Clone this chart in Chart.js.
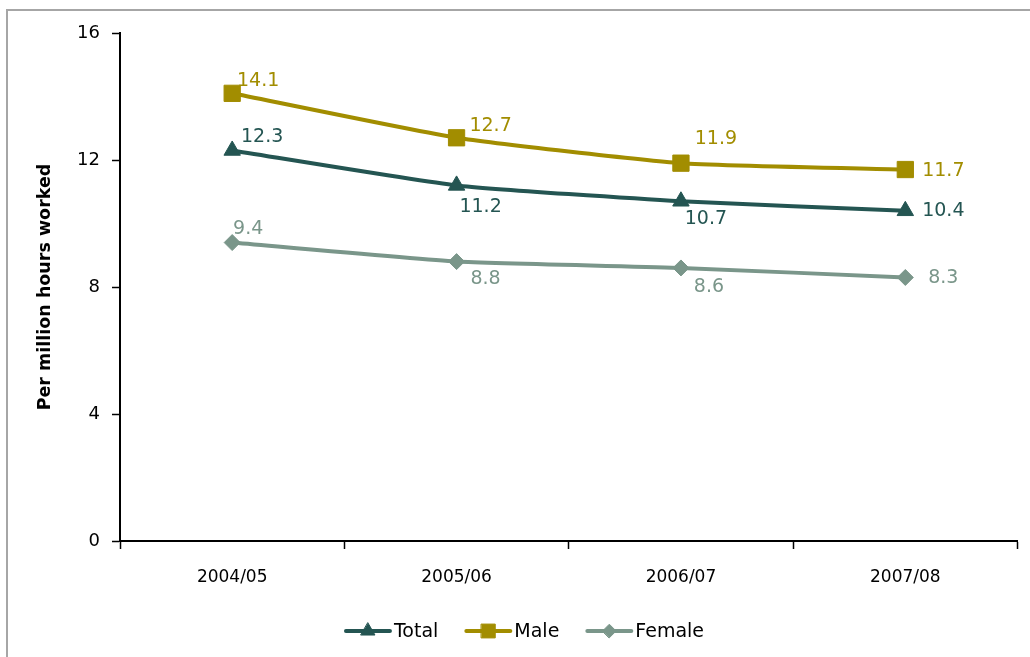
<!DOCTYPE html>
<html lang="en">
<head>
    <meta charset="UTF-8">
    <title>Injury rate per million hours worked</title>
    <script src="https://cdn.jsdelivr.net/npm/chart.js"></script>
    <style>
        html, body { margin: 0; padding: 0; background: #fff; overflow: hidden; }
        #wrap { position: relative; width: 1030px; height: 657px; }
    </style>
</head>
<body>
    <div id="wrap">
        <canvas id="lineChart" width="1030" height="657"></canvas>
    </div>
    <script>
        // Data
        const years = ['2004/05', '2005/06', '2006/07', '2007/08'];
        const totalRate = [12.3, 11.2, 10.7, 10.4];
        const maleRate = [14.1, 12.7, 11.9, 11.7];
        const femaleRate = [9.4, 8.8, 8.6, 8.3];
        const yTicks = [0, 4, 8, 12, 16];

        const FONT = "'DejaVu Sans', sans-serif";
        const colTotal = '#245552';
        const colMale = '#a28d00';
        const colFemale = '#7a968a';

        // label offsets (dx, dy) from each point, per series
        const labelPos = {
            Total:  [[30, -13], [24, 22], [25, 18], [38, 0]],
            Male:   [[26, -12], [34, -12], [35, -24], [38, 2]],
            Female: [[16, -13], [29, 17], [28, 19], [38, 1]]
        };

        // draws the value labels next to the markers
        const valueLabels = {
            id: 'valueLabels',
            afterDatasetsDraw(chart) {
                const ctx = chart.ctx;
                ctx.save();
                ctx.font = '19px ' + FONT;
                ctx.textAlign = 'center';
                ctx.textBaseline = 'middle';
                chart.data.datasets.forEach((ds, i) => {
                    const meta = chart.getDatasetMeta(i);
                    const offs = labelPos[ds.label];
                    meta.data.forEach((pt, j) => {
                        ctx.fillStyle = ds.borderColor;
                        ctx.fillText(ds.data[j].toFixed(1), pt.x + offs[j][0], pt.y + offs[j][1]);
                    });
                });
                ctx.restore();
            }
        };

        // frame and legend (line + marker, like the original)
        const frameAndLegend = {
            id: 'frameAndLegend',
            beforeDraw(chart) {
                const ctx = chart.ctx;
                ctx.save();
                ctx.strokeStyle = '#a6a6a6';
                ctx.lineWidth = 2;
                ctx.strokeRect(7, 10, 1100, 700);
                ctx.restore();
            },
            afterDraw(chart) {
                const ctx = chart.ctx;
                const y = 631;
                const items = chart.data.datasets;
                const lineLen = 44, gap = 4, between = 28;
                ctx.save();
                ctx.font = '19px ' + FONT;
                ctx.textBaseline = 'middle';
                const widths = items.map(ds => ctx.measureText(ds.label).width);
                let total = between * (items.length - 1);
                widths.forEach(w => total += lineLen + gap + w);
                let x = 525 - total / 2;
                items.forEach((ds, i) => {
                    ctx.strokeStyle = ds.borderColor;
                    ctx.lineWidth = 4;
                    ctx.lineCap = 'round';
                    ctx.beginPath();
                    ctx.moveTo(x, y);
                    ctx.lineTo(x + lineLen, y);
                    ctx.stroke();
                    ctx.fillStyle = ds.borderColor;
                    ctx.lineWidth = 1;
                    Chart.helpers.drawPoint(ctx, {
                        pointStyle: ds.pointStyle,
                        radius: ds.pointRadius * 0.85,
                        borderWidth: 1
                    }, x + lineLen / 2, y);
                    ctx.fillStyle = '#000';
                    ctx.fillText(ds.label, x + lineLen + gap, y + 1);
                    x += lineLen + gap + widths[i] + between;
                });
                ctx.restore();
            }
        };

        const series = (label, data, color, style, radius) => ({
            label: label,
            data: data,
            borderColor: color,
            backgroundColor: color,
            pointBackgroundColor: color,
            pointBorderColor: color,
            borderWidth: 4,
            pointStyle: style,
            pointRadius: radius,
            pointBorderWidth: 1,
            tension: 0.15
        });

        const ctxLine = document.getElementById('lineChart').getContext('2d');
        const lineChart = new Chart(ctxLine, {
            type: 'line',
            data: {
                labels: years,
                datasets: [
                    series('Total', totalRate, colTotal, 'triangle', 9.5),
                    series('Male', maleRate, colMale, 'rect', 11.5),
                    series('Female', femaleRate, colFemale, 'rectRot', 8)
                ]
            },
            options: {
                responsive: false,
                animation: false,
                layout: { padding: { top: 33, right: 12, left: 0, bottom: 0 } },
                plugins: {
                    legend: { display: false },
                    tooltip: { enabled: false }
                },
                scales: {
                    x: {
                        offset: true,
                        grid: {
                            offset: true,
                            drawOnChartArea: false,
                            color: '#000',
                            tickLength: 8,
                            tickWidth: 1.5
                        },
                        border: { color: '#000', width: 2 },
                        ticks: {
                            color: '#000',
                            padding: 18,
                            font: { family: FONT, size: 17 }
                        },
                        afterFit(scale) { scale.height = 116; }
                    },
                    y: {
                        min: 0,
                        max: 16,
                        afterBuildTicks(scale) { scale.ticks = yTicks.map(v => ({ value: v })); },
                        grid: {
                            drawOnChartArea: false,
                            color: '#000',
                            tickLength: 8,
                            tickWidth: 1.5
                        },
                        border: { color: '#000', width: 2 },
                        ticks: {
                            color: '#000',
                            padding: 12,
                            font: { family: FONT, size: 18 }
                        },
                        title: {
                            display: true,
                            text: 'Per million hours worked',
                            color: '#000',
                            padding: { top: 35, bottom: 0 },
                            font: { family: FONT, size: 17.5, weight: 'bold' }
                        },
                        afterFit(scale) { scale.width = 120; }
                    }
                }
            },
            plugins: [valueLabels, frameAndLegend]
        });
    </script>
</body>
</html>
